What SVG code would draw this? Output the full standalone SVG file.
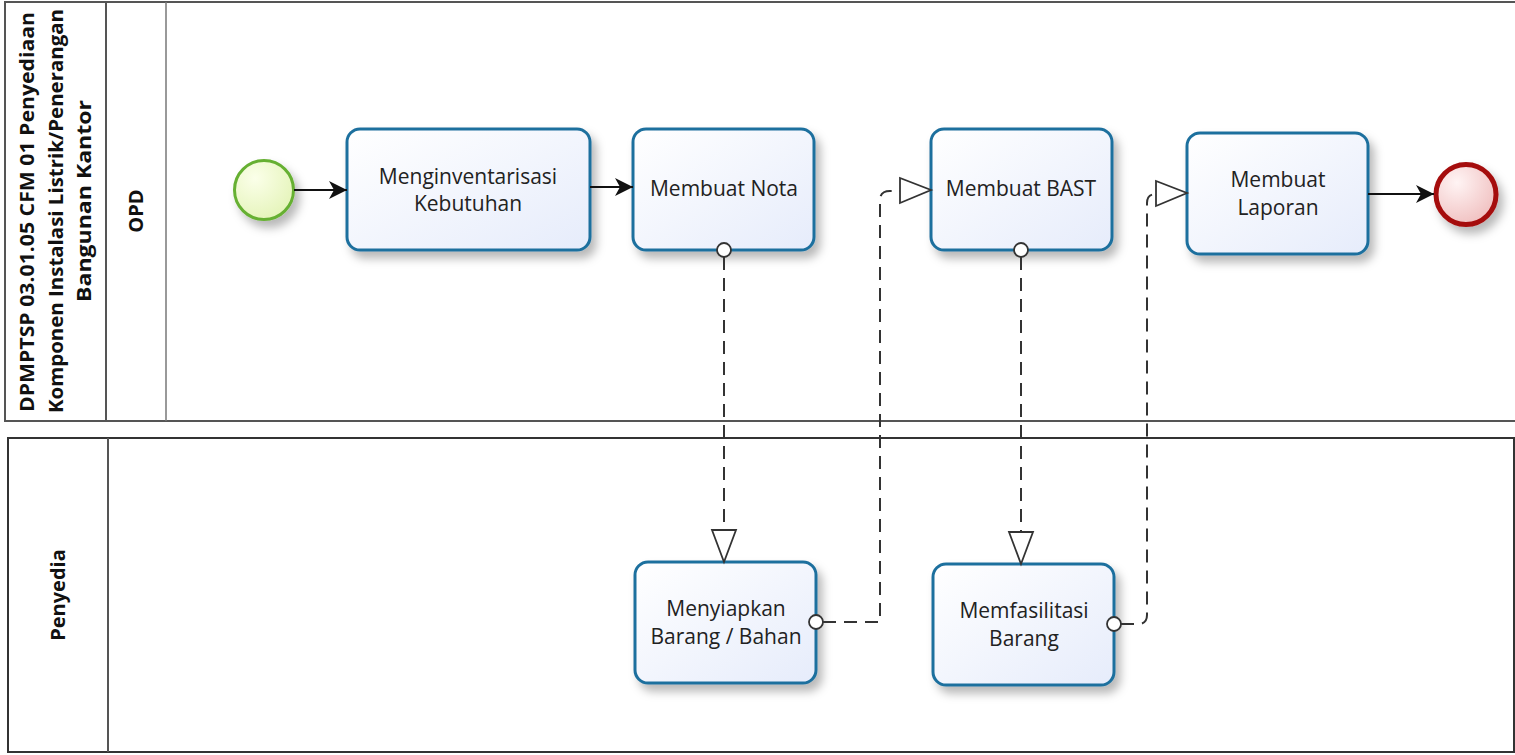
<svg xmlns="http://www.w3.org/2000/svg" width="1515" height="755" viewBox="0 0 1515 755">
<defs>
<style>
.pool{fill:#fff;stroke:#555;stroke-width:2}
.pool2{fill:#fff;stroke:#333;stroke-width:2}
.div{stroke:#555;stroke-width:2}
.lanediv{stroke:#777;stroke-width:1.5}
.title{font-family:"Open Sans","Liberation Sans",sans-serif;font-weight:bold;font-size:20px;fill:#111;text-anchor:middle}
.task rect{fill:url(#taskGrad);stroke:#1f6f9e;stroke-width:3;filter:url(#shadow)}
.task text{font-family:"Open Sans","Liberation Sans",sans-serif;font-size:21px;fill:#222;text-anchor:middle}
.seq{fill:none;stroke:#111;stroke-width:2;marker-end:url(#arrow)}
.msg{fill:none;stroke:#333;stroke-width:2;stroke-dasharray:13 8}
.msgEnd{fill:#fff;stroke:#333;stroke-width:1.8}
.msgStart{fill:#fff;stroke:#333;stroke-width:1.8}
</style>
<linearGradient id="taskGrad" x1="0" y1="0" x2="1" y2="1">
<stop offset="0" stop-color="#ffffff"/>
<stop offset="1" stop-color="#e6ecfb"/>
</linearGradient>
<radialGradient id="startGrad" cx="0.35" cy="0.3" r="0.8">
<stop offset="0" stop-color="#fbffe9"/>
<stop offset="1" stop-color="#e3f3b6"/>
</radialGradient>
<radialGradient id="endGrad" cx="0.35" cy="0.3" r="0.8">
<stop offset="0" stop-color="#fff4f4"/>
<stop offset="1" stop-color="#efbcbc"/>
</radialGradient>
<filter id="shadow" x="-20%" y="-20%" width="150%" height="160%">
<feDropShadow dx="5" dy="7" stdDeviation="5" flood-color="#000" flood-opacity="0.28"/>
</filter>
<marker id="arrow" markerUnits="userSpaceOnUse" markerWidth="20" markerHeight="20" refX="18" refY="9" orient="auto">
<path d="M0,0 L18,9 L0,18 L5,9 z" fill="#111"/>
</marker>
</defs>

<g id="pool-opd">
<rect class="pool" x="5" y="2" width="1530" height="419"/>
<line class="div" x1="106" y1="2" x2="106" y2="421"/>
<line class="lanediv" x1="166" y1="2" x2="166" y2="421"/>
<text class="title" transform="translate(34,212) rotate(-90)" textLength="400" lengthAdjust="spacingAndGlyphs">DPMPTSP 03.01.05 CFM 01 Penyediaan</text>
<text class="title" transform="translate(63,211) rotate(-90)" textLength="404" lengthAdjust="spacingAndGlyphs">Komponen Instalasi Listrik/Penerangan</text>
<text class="title" transform="translate(91,201) rotate(-90)" textLength="202" lengthAdjust="spacingAndGlyphs">Bangunan Kantor</text>
<text class="title" transform="translate(143,211) rotate(-90)">OPD</text>
</g>

<g id="pool-penyedia">
<rect class="pool2" x="8" y="438" width="1506" height="314"/>
<line class="div" x1="108" y1="438" x2="108" y2="752"/>
<text class="title" transform="translate(65,595) rotate(-90)">Penyedia</text>
</g>

<g id="start">
<circle cx="264" cy="190" r="29.5" fill="url(#startGrad)" stroke="#66b032" stroke-width="3" filter="url(#shadow)"/>
</g>

<g id="task-menginventarisasi" class="task">
<rect x="347" y="129" width="243" height="121" rx="13"/>
<text x="468" y="184">Menginventarisasi</text>
<text x="468" y="211">Kebutuhan</text>
</g>

<g id="task-nota" class="task">
<rect x="633" y="129" width="181" height="121" rx="13"/>
<text x="724" y="196">Membuat Nota</text>
</g>

<g id="task-bast" class="task">
<rect x="931" y="129" width="181" height="121" rx="13"/>
<text x="1021" y="196">Membuat BAST</text>
</g>

<g id="task-laporan" class="task">
<rect x="1187" y="133" width="181" height="121" rx="13"/>
<text x="1278" y="187">Membuat</text>
<text x="1278" y="215">Laporan</text>
</g>

<g id="end">
<circle cx="1466" cy="194.5" r="30" fill="url(#endGrad)" stroke="#a50d0d" stroke-width="5" filter="url(#shadow)"/>
</g>

<g id="task-menyiapkan" class="task">
<rect x="635" y="562" width="181" height="121" rx="13"/>
<text x="726" y="616">Menyiapkan</text>
<text x="726" y="644">Barang / Bahan</text>
</g>

<g id="task-memfasilitasi" class="task">
<rect x="933" y="564" width="181" height="121" rx="13"/>
<text x="1024" y="618">Memfasilitasi</text>
<text x="1024" y="646">Barang</text>
</g>

<g id="connectors">
<path class="seq" d="M294,190 H347"/>
<path class="seq" d="M590,187 H633"/>
<path class="seq" d="M1368,194 H1434"/>

<path class="msg" d="M724,257 V530"/>
<polygon class="msgEnd" points="712,530 736,530 724,562"/>
<circle class="msgStart" cx="724" cy="250" r="7"/>

<path class="msg" d="M823,622 H880 V200 Q880,191 890,191 H900"/>
<polygon class="msgEnd" points="900,178 900,203 931,190"/>
<circle class="msgStart" cx="816" cy="622" r="7"/>

<path class="msg" d="M1021,257 V532"/>
<polygon class="msgEnd" points="1009,532 1033,532 1021,564"/>
<circle class="msgStart" cx="1021" cy="250" r="7"/>

<path class="msg" d="M1121,624 H1138 Q1147,624 1147,615 V203 Q1147,194 1156,194"/>
<polygon class="msgEnd" points="1156,181 1156,206 1187,193"/>
<circle class="msgStart" cx="1114" cy="624" r="7"/>
</g>
</svg>
